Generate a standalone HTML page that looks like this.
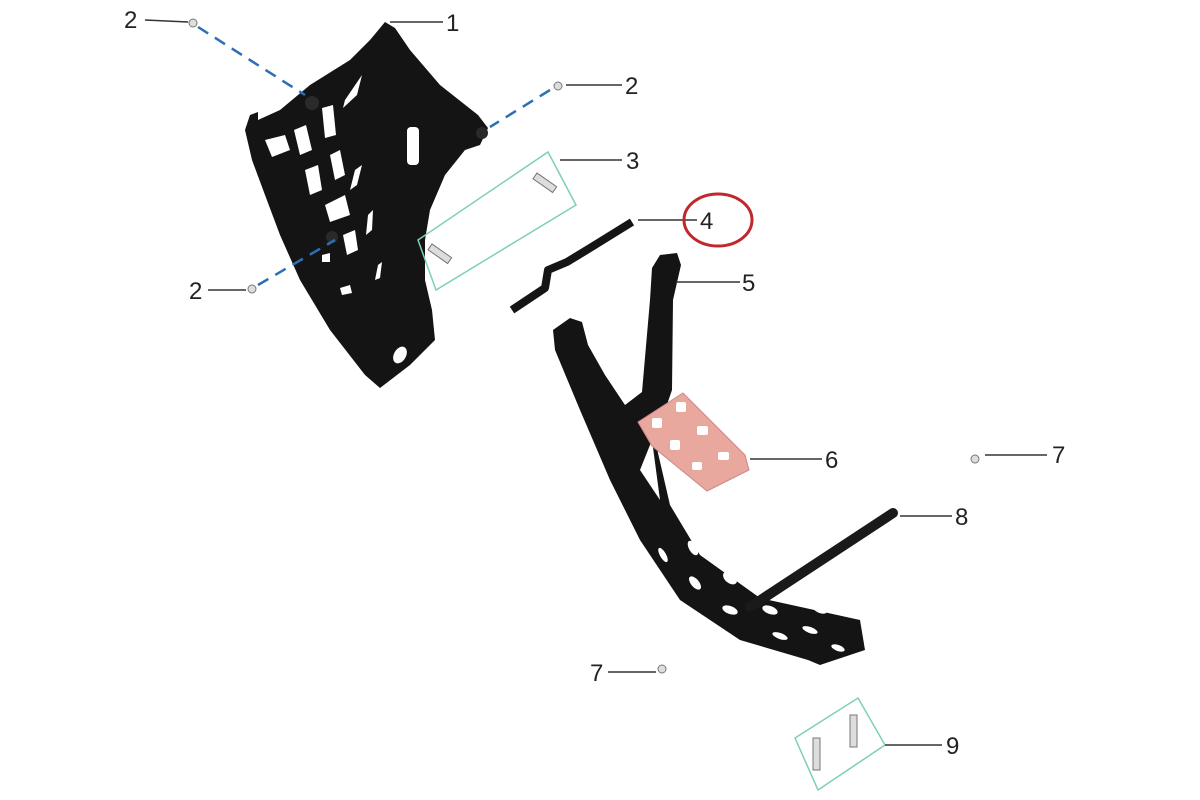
<!DOCTYPE html>
<html><head><style>
html,body{margin:0;padding:0;background:#fff;}
svg{display:block;}
text{font-family:"Liberation Sans",sans-serif;font-size:24px;fill:#222;}
</style></head><body>
<svg width="1200" height="800" viewBox="0 0 1200 800" xmlns="http://www.w3.org/2000/svg">
<!-- skid plate -->
<polygon fill="#141414" points="385,22 395,28 410,50 440,85 478,115 488,128 480,145 465,150 445,175 430,210 425,240 425,280 432,310 435,340 410,365 380,388 365,375 330,330 300,280 280,235 265,195 252,160 245,130 250,115 258,112 258,120 280,110 310,85 350,60 370,40"/>
<g fill="#fff">
<polygon points="357,95 362,75 345,100 343,108"/>
<polygon points="265,140 285,135 290,150 272,157"/>
<polygon points="294,130 306,125 312,150 300,155"/>
<polygon points="322,108 333,105 336,135 325,138"/>
<polygon points="305,170 318,165 322,190 310,195"/>
<polygon points="330,155 340,150 345,175 335,180"/>
<polygon points="355,170 362,165 357,185 350,190"/>
<polygon points="325,205 345,195 350,215 330,222"/>
<polygon points="343,235 355,230 358,250 347,255"/>
<polygon points="368,215 373,210 372,230 366,235"/>
<polygon points="378,265 382,262 380,278 375,280"/>
<polygon points="340,288 350,285 352,293 342,295"/>
<polygon points="322,255 330,253 330,262 322,262"/>
<rect x="407" y="127" width="12" height="38" rx="4"/>
<ellipse cx="400" cy="355" rx="6" ry="9" transform="rotate(30 400 355)"/>
</g>
<circle cx="312" cy="103" r="7" fill="#2a2a2a"/>
<circle cx="482" cy="133" r="6" fill="#2a2a2a"/>
<circle cx="332" cy="237" r="6" fill="#2a2a2a"/>
<!-- blue dashed -->
<g stroke="#2b6fb5" stroke-width="2.5" stroke-dasharray="12,8" fill="none">
<line x1="198" y1="27" x2="305" y2="95"/>
<line x1="550" y1="90" x2="490" y2="127"/>
<line x1="258" y1="285" x2="335" y2="240"/>
</g>
<!-- bracket 4 -->
<polyline points="512,310 545,288 548,270 567,262 590,248 632,222" fill="none" stroke="#151515" stroke-width="8" stroke-linejoin="round"/>
<!-- frame -->
<polygon fill="#141414" points="553,330 570,318 582,322 588,345 605,375 625,405 642,392 650,300 652,268 660,255 677,253 681,265 673,300 672,390 660,425 655,440 670,505 700,555 760,598 860,620 865,650 820,665 808,660 740,640 680,600 640,540 610,480 580,410 555,350"/>
<polygon fill="#fff" points="640,470 660,500 652,440"/>
<g fill="#fff">
<ellipse cx="663" cy="555" rx="3" ry="8" transform="rotate(-30 663 555)"/>
<ellipse cx="693" cy="548" rx="4" ry="8" transform="rotate(-30 693 548)"/>
<ellipse cx="695" cy="583" rx="4" ry="8" transform="rotate(-40 695 583)"/>
<ellipse cx="730" cy="578" rx="5" ry="8" transform="rotate(-50 730 578)"/>
<ellipse cx="730" cy="610" rx="8" ry="4" transform="rotate(20 730 610)"/>
<ellipse cx="770" cy="610" rx="8" ry="4" transform="rotate(20 770 610)"/>
<ellipse cx="780" cy="636" rx="8" ry="3" transform="rotate(20 780 636)"/>
<ellipse cx="810" cy="630" rx="8" ry="3" transform="rotate(20 810 630)"/>
<ellipse cx="820" cy="610" rx="7" ry="3" transform="rotate(20 820 610)"/>
<ellipse cx="838" cy="648" rx="7" ry="3" transform="rotate(20 838 648)"/>
</g>
<!-- pink plate -->
<polygon fill="#e8a89e" stroke="#c88" stroke-width="1" points="638,422 683,393 745,455 749,470 707,491 652,446"/>
<g fill="#fff">
<rect x="652" y="418" width="10" height="10" rx="2"/>
<rect x="676" y="402" width="10" height="10" rx="2"/>
<rect x="670" y="440" width="10" height="10" rx="2"/>
<rect x="697" y="426" width="11" height="9" rx="2"/>
<rect x="692" y="462" width="10" height="8" rx="2"/>
<rect x="718" y="452" width="11" height="8" rx="2"/>
</g>
<!-- rod 8 -->
<line x1="750" y1="607" x2="893" y2="513" stroke="#1a1a1a" stroke-width="10" stroke-linecap="round"/>
<!-- bolts -->
<g fill="#ddd" stroke="#777" stroke-width="1">
<circle cx="193" cy="23" r="4"/><circle cx="558" cy="86" r="4"/><circle cx="252" cy="289" r="4"/>
<circle cx="975" cy="459" r="4"/><circle cx="662" cy="669" r="4"/>
<rect x="432" y="244" width="24" height="7" transform="rotate(35 432 244)"/>
<rect x="537" y="173" width="24" height="7" transform="rotate(35 537 173)"/>
<rect x="813" y="738" width="7" height="32"/>
<rect x="850" y="715" width="7" height="32"/>
</g>
<!-- green boxes -->
<polygon fill="none" stroke="#7fd0b0" stroke-width="1.5" points="418,240 548,152 576,205 436,290"/>
<polygon fill="none" stroke="#7fd0b0" stroke-width="1.5" points="795,738 858,698 885,745 818,790"/>
<!-- leaders -->
<g stroke="#333" stroke-width="1.5">
<line x1="390" y1="22" x2="443" y2="22"/>
<line x1="145" y1="20" x2="188" y2="22"/>
<line x1="566" y1="85" x2="622" y2="85"/>
<line x1="560" y1="160" x2="622" y2="160"/>
<line x1="638" y1="220" x2="697" y2="220"/>
<line x1="676" y1="282" x2="740" y2="282"/>
<line x1="750" y1="459" x2="822" y2="459"/>
<line x1="985" y1="455" x2="1047" y2="455"/>
<line x1="900" y1="516" x2="952" y2="516"/>
<line x1="608" y1="672" x2="656" y2="672"/>
<line x1="885" y1="745" x2="942" y2="745"/>
<line x1="208" y1="290" x2="246" y2="290"/>
</g>
<text x="446" y="31">1</text>
<text x="124" y="28">2</text>
<text x="625" y="94">2</text>
<text x="626" y="169">3</text>
<text x="700" y="229">4</text>
<text x="742" y="291">5</text>
<text x="825" y="468">6</text>
<text x="1052" y="463">7</text>
<text x="955" y="525">8</text>
<text x="590" y="681">7</text>
<text x="946" y="754">9</text>
<text x="189" y="299">2</text>
<ellipse cx="718" cy="220" rx="34" ry="26" fill="none" stroke="#c0282d" stroke-width="3"/>
</svg>
</body></html>
